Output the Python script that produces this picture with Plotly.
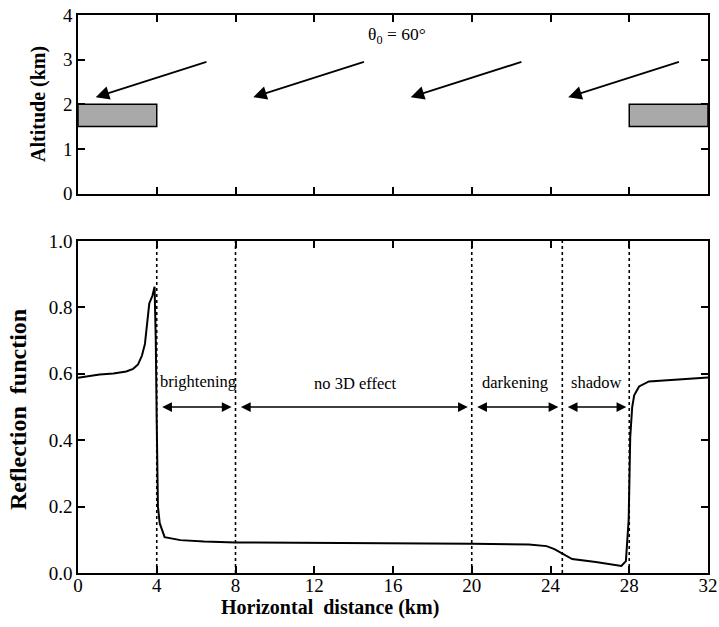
import plotly.graph_objects as go

# ---------------- data ----------------
# reflection function curve (bottom panel)
dist_km = [0.0, 0.5, 1.1, 1.8, 2.45, 2.8, 3.05, 3.25, 3.4, 3.62, 3.78, 3.89,
           3.95, 4.0, 4.06, 4.15, 4.4, 5.2, 6.4, 8.0, 12.0, 16.0, 20.0, 22.9,
           23.8, 24.2, 24.6, 25.1, 26.3, 27.6, 27.83, 27.97, 28.05, 28.15, 28.25,
           28.5, 29.0, 30.2, 32.0]
reflect = [0.588, 0.592, 0.598, 0.601, 0.607, 0.615, 0.628, 0.655, 0.69, 0.812,
           0.835, 0.862, 0.70, 0.45, 0.20, 0.15, 0.108, 0.099, 0.095, 0.092,
           0.091, 0.090, 0.088, 0.086, 0.081, 0.072, 0.058, 0.042, 0.033, 0.021,
           0.036, 0.16, 0.41, 0.50, 0.535, 0.562, 0.577, 0.581, 0.589]

# vertical dotted boundaries (km)
boundaries = [4, 8, 20, 24.6, 28]

# region labels and their double arrows
region_names = ["brightening", "no 3D effect", "darkening", "shadow"]
region_label_x = [6.1, 14.1, 22.2, 26.3]
region_label_y = [0.578, 0.57, 0.574, 0.574]
region_arrow_start = [4.2, 8.2, 20.2, 24.8]
region_arrow_end = [7.8, 19.8, 24.4, 27.85]
region_arrow_y = 0.5

# clouds (top panel): x0, x1, bottom, top (km)
cloud_x0 = [0, 28]
cloud_x1 = [4, 32]
cloud_bottom = 1.5
cloud_top = 2.0

# solar rays (top panel)
ray_tail_x = [6.6, 14.6, 22.6, 30.6]
ray_tail_y = 2.96
ray_head_x = [0.9, 8.9, 16.9, 24.9]
ray_head_y = 2.16

x_ticks = [0, 4, 8, 12, 16, 20, 24, 28, 32]
top_y_ticks = [0, 1, 2, 3, 4]
bot_y_ticks = [0.0, 0.2, 0.4, 0.6, 0.8, 1.0]

SERIF = "Liberation Serif, Times New Roman, serif"

fig = go.Figure()

# curve
fig.add_trace(go.Scatter(x=dist_km, y=reflect, mode="lines",
                         line=dict(color="black", width=2),
                         xaxis="x2", yaxis="y2", showlegend=False,
                         hoverinfo="skip"))

shapes = []
for b in boundaries:
    shapes.append(dict(type="line", xref="x2", yref="y2", x0=b, x1=b, y0=0, y1=1,
                       line=dict(color="black", width=1.6, dash="dot")))
for a, b in zip(cloud_x0, cloud_x1):
    shapes.append(dict(type="rect", xref="x", yref="y", x0=a, x1=b,
                       y0=cloud_bottom, y1=cloud_top,
                       fillcolor="#a9a9a9", line=dict(color="black", width=1.5)))

annotations = []
for tx, hx in zip(ray_tail_x, ray_head_x):
    annotations.append(dict(x=hx, y=ray_head_y, ax=tx, ay=ray_tail_y,
                            xref="x", yref="y", axref="x", ayref="y",
                            text="", showarrow=True, arrowhead=2,
                            arrowsize=1.5, arrowwidth=1.8, arrowcolor="black",
                            standoff=0))
for s, e in zip(region_arrow_start, region_arrow_end):
    annotations.append(dict(x=e, y=region_arrow_y, ax=s, ay=region_arrow_y,
                            xref="x2", yref="y2", axref="x2", ayref="y2",
                            text="", showarrow=True, arrowhead=2, startarrowhead=2,
                            arrowside="end+start", arrowsize=1.3, startarrowsize=1.3,
                            arrowwidth=1.5, arrowcolor="black",
                            standoff=0, startstandoff=0))
for name, lx, ly in zip(region_names, region_label_x, region_label_y):
    annotations.append(dict(x=lx, y=ly, xref="x2", yref="y2", text=name,
                            showarrow=False,
                            font=dict(family=SERIF, size=16.5, color="black")))
annotations.append(dict(x=16.2, y=3.53, xref="x", yref="y",
                        text="θ<sub>0</sub> = 60°", showarrow=False,
                        font=dict(family=SERIF, size=17.5, color="black")))

# axis titles placed in the margins
annotations.append(dict(x=-0.0635, y=0.8405, xref="paper", yref="paper",
                        xanchor="center", yanchor="middle",
                        text="<b>Altitude (km)</b>", textangle=-90,
                        showarrow=False,
                        font=dict(family=SERIF, size=20, color="black")))
annotations.append(dict(x=-0.0952, y=0.292, xref="paper", yref="paper",
                        xanchor="center", yanchor="middle",
                        text="<b>Reflection\u00a0\u00a0function</b>", textangle=-90,
                        showarrow=False,
                        font=dict(family=SERIF, size=24, color="black")))
annotations.append(dict(x=0.4, y=-0.061, xref="paper", yref="paper",
                        xanchor="center", yanchor="middle",
                        text="<b>Horizontal\u00a0\u00a0distance (km)</b>",
                        showarrow=False,
                        font=dict(family=SERIF, size=20, color="black")))

axis_common = dict(showline=True, linecolor="black", linewidth=1.5, mirror="ticks",
                   ticks="inside", ticklen=7, tickwidth=1.5, tickcolor="black",
                   showgrid=False, zeroline=False, automargin=False,
                   tickfont=dict(family=SERIF, size=19, color="black"))

fig.update_layout(
    width=719, height=627,
    margin=dict(l=78, r=11, t=15, b=54),
    paper_bgcolor="white", plot_bgcolor="white",
    shapes=shapes, annotations=annotations, showlegend=False,
    xaxis=dict(domain=[0, 1], range=[0, 32], tickvals=x_ticks, showticklabels=False,
               anchor="y", **axis_common),
    yaxis=dict(domain=[0.68, 1], range=[0, 4], tickvals=top_y_ticks,
               anchor="x", **axis_common),
    xaxis2=dict(domain=[0, 1], range=[0, 32], tickvals=x_ticks, anchor="y2",
                ticklabelstandoff=-6, **axis_common),
    yaxis2=dict(domain=[0, 0.595], range=[0, 1], tickvals=bot_y_ticks,
                tickformat=".1f", anchor="x2", **axis_common),
)

fig.write_html("out.html", config={"displayModeBar": False},
               post_script="document.body.style.margin='0';document.body.style.padding='0';")
